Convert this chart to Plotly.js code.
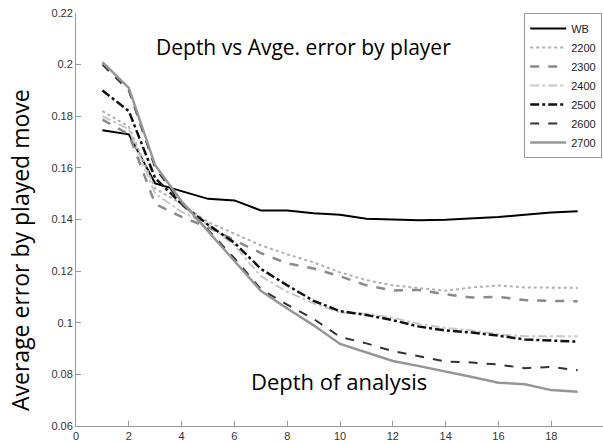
<!DOCTYPE html>
<html><head><meta charset="utf-8">
<script src="https://cdn.plot.ly/plotly-3.0.1.min.js"></script>
<style>html,body{margin:0;padding:0;background:#fff}#chart{width:603px;height:444px}</style>
</head><body><div id="chart"></div>
<script>
const depth = [1,2,3,4,5,6,7,8,9,10,11,12,13,14,15,16,17,18,19];
const seriesNames = ["WB","2200","2300","2400","2500","2600","2700"];
const wb   = [0.1746,0.173,0.154,0.151,0.148,0.1474,0.1435,0.1435,0.1424,0.1418,0.1403,0.1400,0.1397,0.1399,0.1404,0.1410,0.1418,0.1427,0.1432];
const e2200 = [0.182,0.176,0.152,0.146,0.139,0.1345,0.1300,0.1265,0.1234,0.1195,0.1165,0.1145,0.1135,0.1124,0.1137,0.1144,0.1137,0.1136,0.1135];
const e2300 = [0.1787,0.173,0.146,0.141,0.137,0.132,0.1270,0.1230,0.1210,0.1180,0.1145,0.1125,0.1127,0.1110,0.1098,0.1100,0.1088,0.1085,0.1083];
const e2400 = [0.180,0.175,0.150,0.143,0.138,0.130,0.118,0.112,0.1075,0.104,0.1035,0.1020,0.0995,0.0980,0.0970,0.0955,0.0948,0.0948,0.0948];
const e2500 = [0.190,0.182,0.156,0.146,0.138,0.131,0.1209,0.1145,0.1085,0.1045,0.1030,0.1010,0.0985,0.0970,0.0962,0.0950,0.0935,0.0932,0.0927];
const e2600 = [0.200,0.190,0.160,0.146,0.136,0.125,0.1130,0.1070,0.1015,0.0945,0.0920,0.0890,0.0870,0.0850,0.0846,0.0838,0.0824,0.0829,0.0816];
const e2700 = [0.201,0.191,0.161,0.147,0.1355,0.1238,0.1124,0.1055,0.0990,0.0918,0.0885,0.0852,0.0832,0.0812,0.0790,0.0768,0.0762,0.0739,0.0733];
const yTicks = [0.06,0.08,0.1,0.12,0.14,0.16,0.18,0.2,0.22];
const yTickText = ["0.06","0.08","0.1","0.12","0.14","0.16","0.18","0.2","0.22"];
const xTicks = [0,2,4,6,8,10,12,14,16,18,20];

const allSeries = [wb,e2200,e2300,e2400,e2500,e2600,e2700];
const styles = [
  {color:"#000000", width:2, dash:"solid"},
  {color:"#b0b0b0", width:2, dash:"dot"},
  {color:"#8a8a8a", width:2.5, dash:"dash"},
  {color:"#c8c8c8", width:2, dash:"dashdot"},
  {color:"#111111", width:2.5, dash:"dashdot"},
  {color:"#333333", width:2, dash:"dash"},
  {color:"#969696", width:2.5, dash:"solid"}
];
const traces = allSeries.map((ys,i)=>({
  x: depth, y: ys, name: seriesNames[i], type:"scatter", mode:"lines",
  line: styles[i]
}));

const layout = {
  width:603, height:444,
  margin:{l:76, r:0, t:13, b:18},
  paper_bgcolor:"#fff", plot_bgcolor:"#fff",
  font:{family:"Liberation Sans, Arial, sans-serif", size:11, color:"#333"},
  xaxis:{range:[0,19.96], tickvals:xTicks, ticks:"inside", ticklen:5, tickcolor:"#999",
    showline:true, linecolor:"#999", linewidth:1, showgrid:false, zeroline:false,
    tickfont:{size:11, color:"#333"}},
  yaxis:{range:[0.06,0.22], tickvals:yTicks, ticktext:yTickText, ticks:"inside", ticklen:5, tickcolor:"#999",
    showline:true, linecolor:"#999", linewidth:1, showgrid:false, zeroline:false,
    tickfont:{size:11, color:"#333"}},
  showlegend:true,
  legend:{x:0.9985, y:1.0, xanchor:"right", yanchor:"top", bgcolor:"#fff",
    bordercolor:"#999", borderwidth:1, font:{size:11, color:"#222"}, tracegroupgap:0, itemwidth:36},
  annotations:[
    {text:"Depth vs Avge. error by player", xref:"paper", yref:"paper", x:(303-76)/527, y:(426-47)/413,
     xanchor:"center", yanchor:"middle",
     showarrow:false, font:{family:"Open Sans, sans-serif", size:21, color:"#000"}},
    {text:"Depth of analysis", xref:"paper", yref:"paper", x:(339-76)/527, y:(426-381)/413,
     xanchor:"center", yanchor:"middle",
     showarrow:false, font:{family:"Open Sans, sans-serif", size:22, color:"#000"}},
    {text:"Average error by played move", xref:"paper", yref:"paper", x:(20-76)/527, y:(426-250)/413, textangle:-90,
     xanchor:"center", yanchor:"middle",
     showarrow:false, font:{family:"Open Sans, sans-serif", size:23, color:"#000"}}
  ]
};
Plotly.newPlot("chart", traces, layout, {displayModeBar:false, staticPlot:true});
</script></body></html>
